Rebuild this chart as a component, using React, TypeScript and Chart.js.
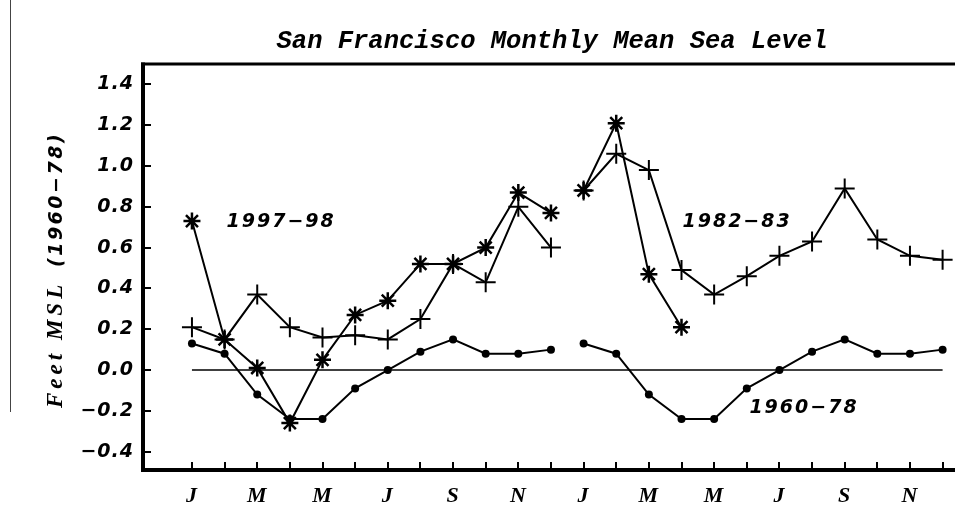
import React, { useEffect, useRef } from 'react';
import { Chart, registerables } from 'chart.js';

Chart.register(...registerables);

// ---- data ----
const monthLetters = ['J', 'F', 'M', 'A', 'M', 'J', 'J', 'A', 'S', 'O', 'N', 'D'];
const categories = [...monthLetters, ...monthLetters]; // two consecutive years
const labeledMonths = [0, 2, 4, 6, 8, 10, 12, 14, 16, 18, 20, 22];
const yTickValues = [-0.4, -0.2, 0.0, 0.2, 0.4, 0.6, 0.8, 1.0, 1.2, 1.4];

const mean1960to78 = [0.13, 0.08, -0.12, -0.24, -0.24, -0.09, 0.0, 0.09, 0.15, 0.08, 0.08, 0.10];
const year1997 = [0.73, 0.15, 0.01, -0.26, 0.05, 0.27, 0.34, 0.52, 0.52, 0.60, 0.87, 0.77];
const year1998 = [0.88, 1.21, 0.47, 0.21];
const year1982 = [0.21, 0.15, 0.37, 0.21, 0.16, 0.17, 0.15, 0.25, 0.52, 0.43, 0.80, 0.60];
const year1983 = [0.88, 1.06, 0.98, 0.49, 0.37, 0.46, 0.56, 0.63, 0.89, 0.64, 0.56, 0.54];
const baselineLevel = [0.0, 0.0];

const seriesNames = ['1997\u221298', '1982\u221283', '1960\u221278'];
const titleText = 'San Francisco Monthly Mean Sea Level';
const yTitleWords = 'Feet MSL';
const yTitleYears = '(1960\u221278)';

// label anchors in data coordinates (month index, sea level)
const seriesLabelAnchors = [
  { x: 1.06, y: 0.70 },
  { x: 15.03, y: 0.70 },
  { x: 17.08, y: -0.21 },
];

function twoYears(first: number[], second: number[]) {
  return [
    ...first.map((v, i) => ({ x: i, y: v })),
    { x: 11.5, y: null as number | null },
    ...second.map((v, i) => ({ x: 12 + i, y: v })),
  ];
}

const fmt = (v: number) => (v < 0 ? '\u2212' : '') + Math.abs(v).toFixed(1);

const framePlugin = {
  id: 'framePlugin',
  beforeDraw(chart: any) {
    chart.ctx.letterSpacing = '1px';
  },
  afterDraw(chart: any) {
    const ctx: CanvasRenderingContext2D = chart.ctx;
    const { left, right, top, bottom } = chart.chartArea;
    const xs = chart.scales.x;
    const ys = chart.scales.y;
    ctx.save();
    (ctx as any).letterSpacing = '0px';
    ctx.strokeStyle = '#000';
    ctx.lineCap = 'butt';
    // frame (top, left, bottom)
    ctx.lineWidth = 3;
    ctx.beginPath();
    ctx.moveTo(left - 2, top);
    ctx.lineTo(right, top);
    ctx.stroke();
    ctx.lineWidth = 4;
    ctx.beginPath();
    ctx.moveTo(left, top - 1.5);
    ctx.lineTo(left, bottom + 2);
    ctx.stroke();
    ctx.beginPath();
    ctx.moveTo(left - 2, bottom);
    ctx.lineTo(right, bottom);
    ctx.stroke();
    // inward tick marks
    ctx.lineWidth = 2;
    yTickValues.forEach((v) => {
      const py = Math.round(ys.getPixelForValue(v));
      ctx.beginPath();
      ctx.moveTo(left, py);
      ctx.lineTo(left + 8, py);
      ctx.stroke();
    });
    categories.forEach((_, i) => {
      const px = Math.round(xs.getPixelForValue(i));
      ctx.beginPath();
      ctx.moveTo(px, bottom);
      ctx.lineTo(px, bottom - 8);
      ctx.stroke();
    });
    // scan edge line
    ctx.strokeStyle = '#444';
    ctx.lineWidth = 1;
    ctx.beginPath();
    ctx.moveTo(10.5, 0);
    ctx.lineTo(10.5, 412);
    ctx.stroke();

    ctx.fillStyle = '#000';
    // title
    ctx.font = 'italic bold 25.5px "Liberation Mono"';
    ctx.textAlign = 'center';
    ctx.textBaseline = 'alphabetic';
    ctx.fillText(titleText, (left + right) / 2 + 3, 48);

    // series labels
    (ctx as any).letterSpacing = '2px';
    ctx.font = 'italic bold 19px "DejaVu Sans"';
    ctx.textAlign = 'left';
    seriesNames.forEach((name, i) => {
      const a = seriesLabelAnchors[i];
      ctx.fillText(name, xs.getPixelForValue(a.x), ys.getPixelForValue(a.y));
    });

    // y axis title (rotated)
    ctx.save();
    ctx.translate(62, 408);
    ctx.rotate(-Math.PI / 2);
    (ctx as any).letterSpacing = '4px';
    ctx.font = 'italic bold 23px "Liberation Serif"';
    ctx.textAlign = 'left';
    ctx.textBaseline = 'alphabetic';
    ctx.fillText(yTitleWords, 0, 0);
    (ctx as any).letterSpacing = '2.5px';
    ctx.font = 'italic bold 19px "DejaVu Sans"';
    ctx.fillText(yTitleYears, 141, 0);
    ctx.restore();

    ctx.restore();
    (ctx as any).letterSpacing = '0px';
  },
};

export default function App() {
  const ref = useRef<HTMLCanvasElement>(null);
  useEffect(() => {
    if (!ref.current) return;
    const chart = new Chart(ref.current, {
      type: 'line',
      data: {
        datasets: [
          {
            label: seriesNames[0],
            data: twoYears(year1997, year1998),
            borderColor: '#000',
            borderWidth: 2,
            pointStyle: 'star',
            pointRadius: 8.5,
            pointBorderWidth: 2.5,
            pointBorderColor: '#000',
            pointBackgroundColor: '#000',
            spanGaps: false,
            tension: 0,
          },
          {
            label: seriesNames[1],
            data: twoYears(year1982, year1983),
            borderColor: '#000',
            borderWidth: 2,
            pointStyle: 'cross',
            pointRadius: 10,
            pointBorderWidth: 2,
            pointBorderColor: '#000',
            pointBackgroundColor: '#000',
            spanGaps: false,
            tension: 0,
          },
          {
            label: seriesNames[2],
            data: twoYears(mean1960to78, mean1960to78),
            borderColor: '#000',
            borderWidth: 2,
            pointStyle: 'circle',
            pointRadius: 4,
            pointBorderWidth: 0,
            pointBackgroundColor: '#000',
            spanGaps: false,
            tension: 0,
          },
          {
            label: 'zero',
            data: baselineLevel.map((v, i) => ({ x: i * (categories.length - 1), y: v })),
            borderColor: '#000',
            borderWidth: 1.5,
            pointRadius: 0,
          },
        ],
      },
      options: {
        animation: false,
        responsive: false,
        maintainAspectRatio: false,
        events: [],
        layout: { autoPadding: false, padding: { top: 64, right: 0, bottom: 0, left: 0 } },
        plugins: {
          legend: { display: false },
          tooltip: { enabled: false },
          title: { display: false },
        },
        scales: {
          x: {
            type: 'linear',
            min: -1.5,
            max: 23.38,
            grid: { display: false, drawTicks: false },
            border: { display: false },
            afterBuildTicks: (s: any) => {
              s.ticks = labeledMonths.map((v) => ({ value: v }));
            },
            afterFit: (s: any) => {
              s.height = 44;
            },
            ticks: {
              autoSkip: false,
              maxRotation: 0,
              minRotation: 0,
              padding: 13,
              color: '#000',
              font: { family: 'Liberation Serif', size: 22, style: 'italic', weight: 'bold' },
              callback: (v: any) => categories[Number(v)] ?? '',
            },
          },
          y: {
            type: 'linear',
            min: -0.49,
            max: 1.5,
            grid: { display: false, drawTicks: false },
            border: { display: false },
            afterBuildTicks: (s: any) => {
              s.ticks = yTickValues.map((v) => ({ value: v }));
            },
            afterFit: (s: any) => {
              s.width = 143;
            },
            ticks: {
              padding: 9,
              color: '#000',
              font: { family: 'DejaVu Sans', size: 19, style: 'italic', weight: 'bold' },
              callback: (v: any) => fmt(Number(v)),
            },
          },
        },
      },
      plugins: [framePlugin],
    } as any);
    return () => chart.destroy();
  }, []);
  return (
    <div style={{ position: 'fixed', left: 0, top: 0, width: 955, height: 514, background: '#fff' }}>
      <canvas ref={ref} width={955} height={514} style={{ display: 'block', width: 955, height: 514 }} />
    </div>
  );
}
